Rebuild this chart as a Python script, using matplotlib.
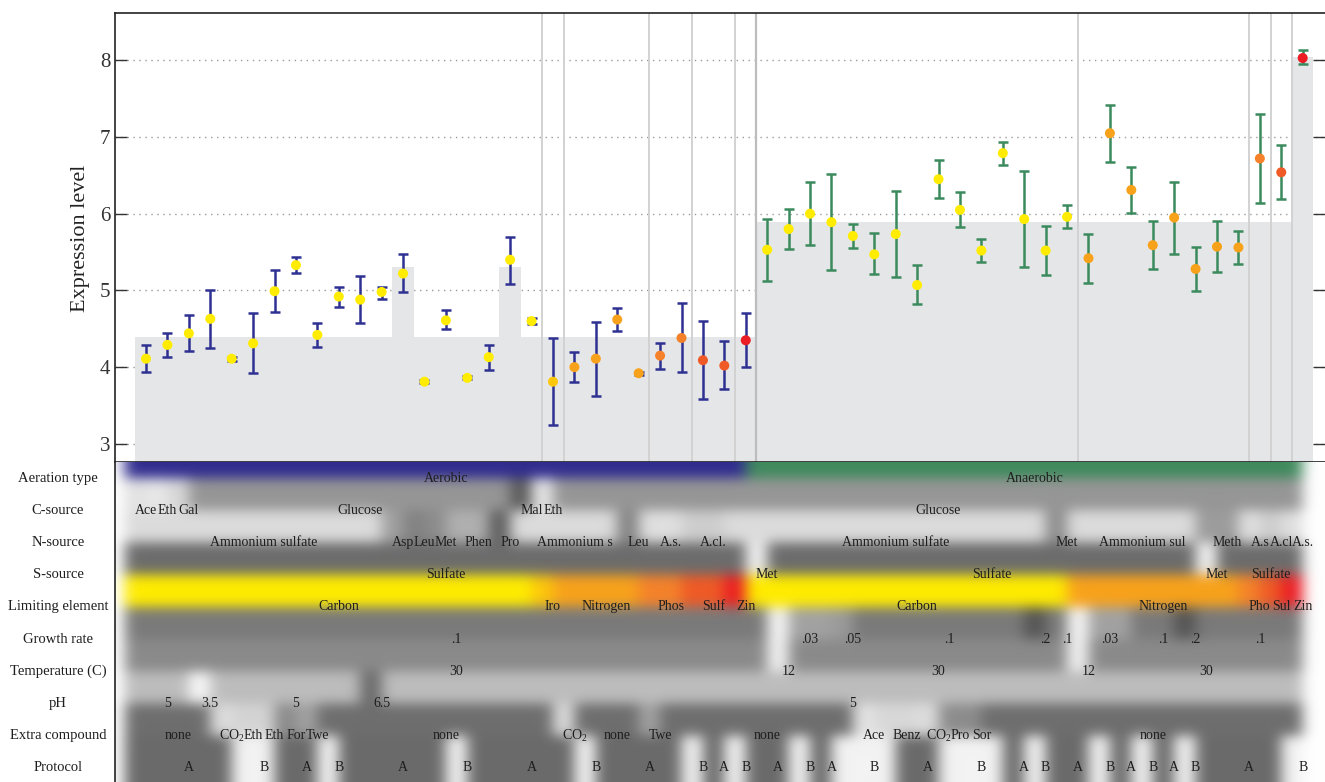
import numpy as np
import matplotlib
matplotlib.use('Agg')
import matplotlib.pyplot as plt
from matplotlib.colors import to_rgb
from matplotlib.transforms import blended_transform_factory

plt.rcParams['font.family'] = ['Liberation Serif', 'DejaVu Serif']
plt.rcParams['mathtext.fontset'] = 'custom'
plt.rcParams['mathtext.rm'] = 'Liberation Serif'
plt.rcParams['mathtext.it'] = 'Liberation Serif:italic'
plt.rcParams['mathtext.bf'] = 'Liberation Serif:bold'

# ---------------- data ----------------
expr = [4.11, 4.29, 4.44, 4.63, 4.11, 4.31, 4.99, 5.33, 4.42, 4.92, 4.88, 4.98, 5.22, 3.81,
        4.61, 3.86, 4.13, 5.40, 4.60, 3.81, 4.00, 4.11, 4.62, 3.92, 4.15, 4.38, 4.09, 4.02,
        4.35, 5.53, 5.80, 6.00, 5.89, 5.71, 5.47, 5.735, 5.07, 6.45, 6.05, 5.52, 6.79, 5.93,
        5.52, 5.96, 5.42, 7.05, 6.31, 5.59, 5.95, 5.28, 5.57, 5.56, 6.72, 6.54, 8.03]
err_lo = [3.93, 4.13, 4.21, 4.25, 4.08, 3.92, 4.72, 5.23, 4.26, 4.79, 4.57, 4.89, 4.98, 3.79,
          4.50, 3.84, 3.96, 5.09, 4.56, 3.24, 3.81, 3.63, 4.47, 3.90, 3.98, 3.93, 3.58, 3.72,
          4.00, 5.12, 5.54, 5.59, 5.27, 5.55, 5.21, 5.18, 4.82, 6.20, 5.83, 5.37, 6.63, 5.31,
          5.20, 5.81, 5.10, 6.67, 6.01, 5.28, 5.48, 4.99, 5.24, 5.34, 6.14, 6.19, 7.95]
err_hi = [4.29, 4.44, 4.68, 5.00, 4.13, 4.70, 5.27, 5.44, 4.57, 5.04, 5.19, 5.05, 5.47, 3.83,
          4.74, 3.88, 4.29, 5.70, 4.64, 4.38, 4.20, 4.59, 4.77, 3.94, 4.32, 4.84, 4.60, 4.34,
          4.70, 5.93, 6.06, 6.42, 6.52, 5.87, 5.75, 6.30, 5.33, 6.70, 6.28, 5.67, 6.94, 6.56,
          5.84, 6.11, 5.74, 7.42, 6.61, 5.90, 6.41, 5.56, 5.91, 5.78, 7.30, 6.89, 8.13]
# grey reference level behind each condition
reference = [4.39] * 12 + [5.31] + [4.39] * 4 + [5.31] + [4.39] * 11 + [5.89] * 25 + [8.04]

row_names = ['Aeration type', 'C-source', 'N-source', 'S-source', 'Limiting element',
             'Growth rate', 'Temperature (C)', 'pH', 'Extra compound', 'Protocol']

# runs: (category, number of conditions, label shown)
aeration_runs = [('Aerobic', 29, 'Aerobic'), ('Anaerobic', 26, 'Anaerobic')]
csource_runs = [('Ace', 1, 'Ace'), ('Eth', 1, 'Eth'), ('Gal', 1, 'Gal'), ('Glucose', 15, 'Glucose'),
                ('Mal', 1, 'Mal'), ('Eth', 1, 'Eth'), ('Glucose', 35, 'Glucose')]
nsource_runs = [('AmS', 12, 'Ammonium sulfate'), ('Asp', 1, 'Asp'), ('Leu', 1, 'Leu'), ('Met', 1, 'Met'),
                ('Phen', 2, 'Phen'), ('Pro', 1, 'Pro'), ('AmS', 5, 'Ammonium s'), ('Leu', 1, 'Leu'),
                ('A.s.', 2, 'A.s.'), ('A.cl.', 2, 'A.cl.'), ('AmS', 15, 'Ammonium sulfate'),
                ('Met', 1, 'Met'), ('AmS', 6, 'Ammonium sul'), ('Meth', 2, 'Meth'),
                ('A.s.', 1, 'A.s'), ('A.cl.', 1, 'A.cl'), ('A.s.', 1, 'A.s.')]
ssource_runs = [('Sulfate', 29, 'Sulfate'), ('Met', 1, 'Met'), ('Sulfate', 20, 'Sulfate'),
                ('Met', 1, 'Met'), ('Sulfate', 4, 'Sulfate')]
limiting_runs = [('Carbon', 19, 'Carbon'), ('Iron', 1, 'Iro'), ('Nitrogen', 4, 'Nitrogen'),
                 ('Phosphorus', 2, 'Phos'), ('Sulfur', 2, 'Sulf'), ('Zinc', 1, 'Zin'),
                 ('Carbon', 15, 'Carbon'), ('Nitrogen', 8, 'Nitrogen'), ('Phosphorus', 1, 'Pho'),
                 ('Sulfur', 1, 'Sul'), ('Zinc', 1, 'Zin')]
growth_runs = [('.1', 30, '.1'), ('NA', 1, ''), ('.03', 1, '.03'), ('.03', 1, ''), ('.05', 1, '.05'),
               ('.1', 8, '.1'), ('.2', 1, '.2'), ('.1', 1, '.1'), ('NA', 1, ''), ('.03', 1, '.03'),
               ('.03', 1, ''), ('.1', 2, '.1'), ('.2', 1, '.2'), ('.1', 5, '.1')]
temp_runs = [('30', 30, '30'), ('12', 1, '12'), ('30', 13, '30'), ('12', 1, '12'), ('30', 10, '30')]
ph_runs = [('5', 3, '5'), ('3.5', 1, '3.5'), ('5', 7, '5'), ('6.5', 1, '6.5'), ('5', 43, '5')]
extra_runs = [('none', 4, 'none'), ('CO2', 1, 'CO$_2$'), ('Eth', 1, 'Eth'), ('Eth', 1, 'Eth'),
              ('For', 1, 'For'), ('Twe', 1, 'Twe'), ('none', 11, 'none'), ('CO2', 1, 'CO$_2$'),
              ('none', 3, 'none'), ('Twe', 1, 'Twe'), ('none', 9, 'none'), ('Ace', 1, 'Ace'),
              ('Benz', 2, 'Benz'), ('CO2', 1, 'CO$_2$'), ('Pro', 1, 'Pro'), ('Sor', 1, 'Sor'),
              ('none', 15, 'none')]
protocol_runs = [('A', 5, 'A'), ('B', 2, 'B'), ('A', 2, 'A'), ('B', 1, 'B'), ('A', 5, 'A'),
                 ('B', 1, 'B'), ('A', 5, 'A'), ('B', 1, 'B'), ('A', 4, 'A'), ('B', 1, 'B'),
                 ('A', 1, 'A'), ('B', 1, 'B'), ('A', 2, 'A'), ('B', 1, 'B'), ('A', 1, 'A'),
                 ('B', 3, 'B'), ('A', 2, 'A'), ('B', 3, 'B'), ('A', 1, 'A'), ('B', 1, 'B'),
                 ('A', 2, 'A'), ('B', 1, 'B'), ('A', 1, 'A'), ('B', 1, 'B'), ('A', 1, 'A'),
                 ('B', 1, 'B'), ('A', 4, 'A'), ('B', 1, 'B')]

aeration_colors = {'Aerobic': '#302c8f', 'Anaerobic': '#3f8a5d'}
csource_colors = {'Glucose': '#969696', 'Ace': '#e2e2e2', 'Eth': '#e8e8e8', 'Gal': '#d8d8d8',
                  'Mal': '#5a5a5a'}
nsource_colors = {'AmS': '#dcdcdc', 'Asp': '#a0a0a0', 'Leu': '#828282', 'Met': '#8c8c8c',
                  'Phen': '#b0b0b0', 'Pro': '#5e5e5e', 'A.s.': '#e0e0e0', 'A.cl.': '#cecece',
                  'Meth': '#9c9c9c'}
ssource_colors = {'Sulfate': '#6c6c6c', 'Met': '#f4f4f4'}
limiting_colors = {'Carbon': '#ffec00', 'Iron': '#fdc70c', 'Nitrogen': '#f8a21b',
                   'Phosphorus': '#f5822a', 'Sulfur': '#ef5a26', 'Zinc': '#eb1c24'}
growth_colors = {'.1': '#7a7a7a', '.03': '#a2a2a2', '.05': '#9a9a9a', '.2': '#555555',
                 'NA': '#f6f6f6'}
temp_colors = {'30': '#8a8a8a', '12': '#f3f3f3'}
ph_colors = {'5': '#bdbdbd', '3.5': '#f8f8f8', '6.5': '#6a6a6a'}
extra_colors = {'none': '#6e6e6e', 'CO2': '#dedede', 'Eth': '#d4d4d4', 'For': '#8a8a8a',
                'Twe': '#a2a2a2', 'Ace': '#e4e4e4', 'Benz': '#d8d8d8', 'Pro': '#8c8c8c',
                'Sor': '#8c8c8c'}
protocol_colors = {'A': '#6a6a6a', 'B': '#f3f3f3'}

aeration_bar_colors = {'Aerobic': '#2e3192', 'Anaerobic': '#3b8a5d'}

rows = [(aeration_runs, aeration_colors), (csource_runs, csource_colors),
        (nsource_runs, nsource_colors), (ssource_runs, ssource_colors),
        (limiting_runs, limiting_colors), (growth_runs, growth_colors),
        (temp_runs, temp_colors), (ph_runs, ph_colors), (extra_runs, extra_colors),
        (protocol_runs, protocol_colors)]


def expand(runs):
    out = []
    for cat, cnt, _ in runs:
        out += [cat] * cnt
    return out


n = len(expr)
x = np.arange(n)

# ---------------- figure ----------------
W, H = 1325, 782
fig = plt.figure(figsize=(W / 100, H / 100), dpi=100)
left_px, top_px, bot_px = 115, 13, 462
ax = fig.add_axes([left_px / W, (H - bot_px) / H, 1 - left_px / W, (bot_px - top_px) / H])
axh = fig.add_axes([left_px / W, -2 / H, 1 - left_px / W, (H - bot_px + 2) / H])

step = 21.42
x0_px = 146
xlim = ((left_px - x0_px) / step, (W - x0_px) / step)
ylim = (2.763, 8.617)

# grid
for v in range(3, 9):
    ax.axhline(v, color='#9a9a9a', lw=1.0, ls=(0, (1, 3.3)), zorder=0)

# grey reference bars
ref = np.array(reference)
ax.bar(x, ref, bottom=0, width=1.0, color='#e5e6e8', zorder=1, linewidth=0)

# separators between limiting-element groups
lim_list = expand(limiting_runs)
aer_list = expand(aeration_runs)
for j in range(1, n):
    if lim_list[j] != lim_list[j - 1] or aer_list[j] != aer_list[j - 1]:
        dark = aer_list[j] != aer_list[j - 1]
        ax.axvline(j - 0.5, color='#bdbdbd' if dark else '#d2d2d2', lw=1.6 if dark else 1.4, zorder=2)

# error bars and points
expr_a = np.array(expr)
lo = expr_a - np.array(err_lo)
hi = np.array(err_hi) - expr_a
for j in range(n):
    ax.errorbar(x[j], expr_a[j], yerr=[[lo[j]], [hi[j]]], fmt='none',
                ecolor=aeration_bar_colors[aer_list[j]], elinewidth=1.8, capsize=3.3,
                capthick=1.8, zorder=3)
ax.scatter(x, expr_a, s=7.2 ** 2, c=[limiting_colors[c] for c in lim_list],
           edgecolors='none', zorder=4)

ax.set_xlim(*xlim)
ax.set_ylim(*ylim)
ax.set_xticks([])
ax.set_yticks(range(3, 9))
ax.tick_params(axis='y', which='both', direction='in', length=8.5, width=1.0, color='#333333',
               labelsize=15, labelcolor='#333333', pad=3.5, right=True, labelright=False)
ax.spines['right'].set_visible(False)
for s in ['top', 'left', 'bottom']:
    ax.spines[s].set_color('#222222')
    ax.spines[s].set_linewidth(1.2)
fig.text(81 / W, 1 - 238 / H, 'Expression level', rotation=90, ha='center', va='center',
         fontsize=16, color='#222222')

# ---------------- annotation heat map ----------------
nrows = len(rows)
grid = np.zeros((nrows, n, 3))
for i, (runs, cmap) in enumerate(rows):
    cats = expand(runs)
    for j, c in enumerate(cats):
        grid[i, j] = to_rgb(cmap[c])

sy, sx = 32, 21           # sub-pixels per cell
pad_r, pad_c = 2, 3
img = np.repeat(np.repeat(grid, sy, axis=0), sx, axis=1)
img = np.concatenate([np.repeat(img[:1], pad_r * sy, axis=0), img,
                      np.repeat(img[-1:], pad_r * sy, axis=0)], axis=0)
ink = 1.0 - img
ink = np.pad(ink, ((0, 0), (pad_c * sx, pad_c * sx), (0, 0)))


def kern(sig):
    r = int(3.5 * sig)
    t = np.arange(-r, r + 1)
    k = np.exp(-t ** 2 / (2 * sig ** 2))
    return k / k.sum()


ky, kx = kern(6.0), kern(7.0)
ink = np.apply_along_axis(lambda m: np.convolve(m, ky, mode='same'), 0, ink)
ink = np.apply_along_axis(lambda m: np.convolve(m, kx, mode='same'), 1, ink)
blurred = np.clip(1.0 - ink, 0, 1)

# cells sit half a cell up and left of the labels
ext = [-1 - pad_c, n - 1 + pad_c, nrows - 1 + pad_r, -1 - pad_r]
axh.imshow(blurred, extent=ext, aspect='auto', interpolation='bilinear', zorder=0)
axh.set_xlim(*xlim)
axh.set_ylim(nrows - 0.5, -0.5)
axh.set_xticks([])
axh.set_yticks([])
for s in ['right', 'bottom', 'top']:
    axh.spines[s].set_visible(False)
axh.spines['left'].set_color('#222222')
axh.spines['left'].set_linewidth(1.2)

for i, (runs, cmap) in enumerate(rows):
    start = 0
    for cat, cnt, lab in runs:
        if lab:
            cx = start + (cnt - 1) / 2
            axh.text(cx, i, lab, ha='center', va='center', fontsize=10, color='#1e1e1e', zorder=3)
        start += cnt

tr = blended_transform_factory(fig.transFigure, axh.transData)
for i, name in enumerate(row_names):
    axh.text(58 / W, i, name, transform=tr, ha='center', va='center', fontsize=10.5,
             color='#1e1e1e', clip_on=False)

fig.savefig('out.png', dpi=100, facecolor='white')
